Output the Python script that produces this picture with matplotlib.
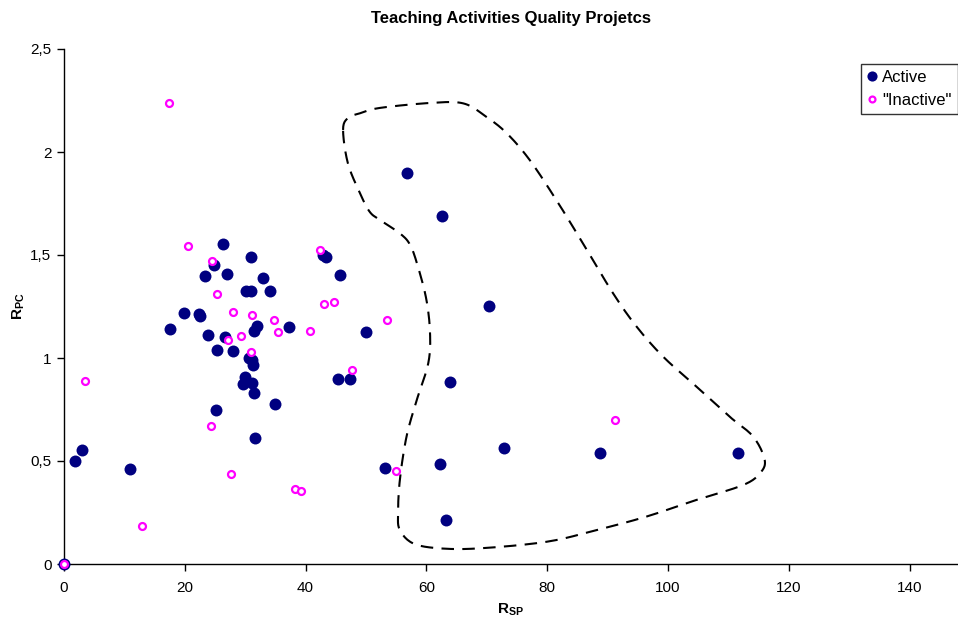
import matplotlib
matplotlib.use("Agg")
import matplotlib.pyplot as plt
import numpy as np
from matplotlib.ticker import FuncFormatter, MultipleLocator

plt.rcParams['font.family'] = ['Liberation Sans', 'DejaVu Sans']
plt.rcParams['mathtext.fontset'] = 'custom'
plt.rcParams['mathtext.rm'] = 'Liberation Sans'
plt.rcParams['mathtext.bf'] = 'Liberation Sans:bold'

active_x = [0, 1.8, 3.0, 10.9, 17.5, 19.8, 22.3, 22.5, 23.3, 23.8, 24.8, 25.4, 25.2,
            26.4, 27.0, 26.7, 27.9, 30.2, 30.9, 31.0, 33.0, 34.1, 31.5, 31.9, 37.3,
            30.6, 31.2, 31.3, 29.95, 29.7, 31.1, 31.5, 34.9, 31.7, 42.9, 43.3, 45.7,
            50.0, 45.3, 47.4, 56.8, 62.5, 70.3, 63.9, 72.8, 53.1, 62.3, 63.2, 88.7, 111.5]
active_y = [0, 0.50, 0.552, 0.463, 1.139, 1.218, 1.215, 1.202, 1.397, 1.112, 1.453, 1.04, 0.747,
            1.552, 1.406, 1.104, 1.033, 1.324, 1.324, 1.490, 1.387, 1.325, 1.133, 1.155, 1.152,
            1.0, 0.99, 0.966, 0.906, 0.874, 0.877, 0.829, 0.775, 0.613, 1.498, 1.491, 1.403,
            1.125, 0.897, 0.897, 1.896, 1.691, 1.254, 0.882, 0.562, 0.468, 0.484, 0.214, 0.537, 0.537]

inactive_x = [0, 3.5, 12.9, 17.3, 20.5, 24.5, 25.3, 27.95, 31.2, 27.1, 29.3, 30.9, 24.4,
              27.6, 34.8, 35.4, 38.2, 39.2, 40.8, 42.4, 43.1, 44.7, 47.7, 53.4, 55.0, 91.2]
inactive_y = [0, 0.888, 0.184, 2.24, 1.543, 1.469, 1.31, 1.222, 1.207, 1.085, 1.105, 1.029, 0.671,
              0.437, 1.184, 1.125, 0.364, 0.354, 1.132, 1.524, 1.26, 1.271, 0.944, 1.184, 0.453, 0.698]

# hand-drawn dashed outline (control points of a closed smooth curve)
outline_x = [46.2, 47.0, 49.0, 52.3, 60.6, 66.1, 69.9, 73.3, 77.1, 81.5, 85.9, 90.9, 94.8,
             99.2, 104.7, 110.2, 114.1, 116.0, 115.2, 112.4, 104.7, 96.4, 88.2, 79.9, 68.8,
             62.2, 57.8, 55.6, 55.3, 55.6, 56.7, 58.4, 60.3, 60.6, 60.0, 58.6, 57.3, 55.6,
             52.3, 50.6, 49.0, 47.0]
outline_y = [2.107, 2.165, 2.188, 2.214, 2.238, 2.236, 2.171, 2.091, 1.961, 1.767, 1.557, 1.314, 1.152,
             1.006, 0.861, 0.715, 0.618, 0.505, 0.440, 0.383, 0.311, 0.230, 0.165, 0.108, 0.076,
             0.076, 0.100, 0.165, 0.246, 0.408, 0.618, 0.796, 0.974, 1.120, 1.282, 1.443, 1.549, 1.605,
             1.670, 1.710, 1.800, 1.945]

W, H = 958, 621
fig = plt.figure(figsize=(W / 100, H / 100), dpi=100)
ax = fig.add_axes([64 / W, 1 - 564 / H, (958 - 64) / W, (564 - 49) / H])
ax.set_xlim(0, 148)
ax.set_ylim(0, 2.5)


def closed_catmull_rom(xs, ys, n=12):
    # smooth the outline in display space, then map back to data
    pts = ax.transData.transform(np.column_stack([xs, ys]))
    m = len(pts)
    out = []
    for i in range(m):
        p0, p1, p2, p3 = pts[(i - 1) % m], pts[i], pts[(i + 1) % m], pts[(i + 2) % m]
        for t in np.linspace(0, 1, n, endpoint=False):
            t2, t3 = t * t, t * t * t
            out.append(0.5 * ((2 * p1) + (-p0 + p2) * t + (2 * p0 - 5 * p1 + 4 * p2 - p3) * t2
                              + (-p0 + 3 * p1 - 3 * p2 + p3) * t3))
    out.append(out[0])
    return ax.transData.inverted().transform(np.array(out))


curve = closed_catmull_rom(outline_x, outline_y)
ax.plot(curve[:, 0], curve[:, 1], color='black', lw=1.5, dashes=(6, 4), zorder=2)

ax.plot(active_x, active_y, 'o', color='#000080', ms=8.6, mew=0, label='Active',
        zorder=3, clip_on=False)
ax.plot(inactive_x, inactive_y, 'o', mfc='white', mec='#FF00FF', ms=5, mew=1.6,
        label='"Inactive"', zorder=4, clip_on=False)

ax.xaxis.set_major_locator(MultipleLocator(20))
ax.yaxis.set_major_locator(MultipleLocator(0.5))
ax.yaxis.set_major_formatter(FuncFormatter(lambda v, p: ('%g' % v).replace('.', ',')))
ax.xaxis.set_major_formatter(FuncFormatter(lambda v, p: '%d' % v))

for s in ['top', 'right']:
    ax.spines[s].set_visible(False)
for s in ['left', 'bottom']:
    ax.spines[s].set_linewidth(1.0)
    ax.spines[s].set_color('black')
ax.tick_params(axis='both', direction='out', length=5, width=1, labelsize=11, colors='black')
ax.tick_params(axis='x', pad=7)
ax.tick_params(axis='y', pad=4)

ax.set_title('Teaching Activities Quality Projetcs', fontsize=12, fontweight='bold', pad=19)
ax.set_xlabel(r'$\mathbf{R_{SP}}$', fontsize=11, labelpad=5)
ax.set_ylabel(r'$\mathbf{R_{PC}}$', fontsize=11, va='center', ha='center')
ax.yaxis.set_label_coords((19 - 64) / 894, 0.5)

leg = ax.legend(loc='upper right', bbox_to_anchor=(0.9995, 0.97), fontsize=12,
                frameon=True, fancybox=False, edgecolor='black', borderpad=0.35,
                handlelength=0.6, handletextpad=0.35, labelspacing=0.45, borderaxespad=0,
                markerscale=0.85)
leg.get_frame().set_linewidth(1.0)

fig.savefig('out.png', dpi=100)
